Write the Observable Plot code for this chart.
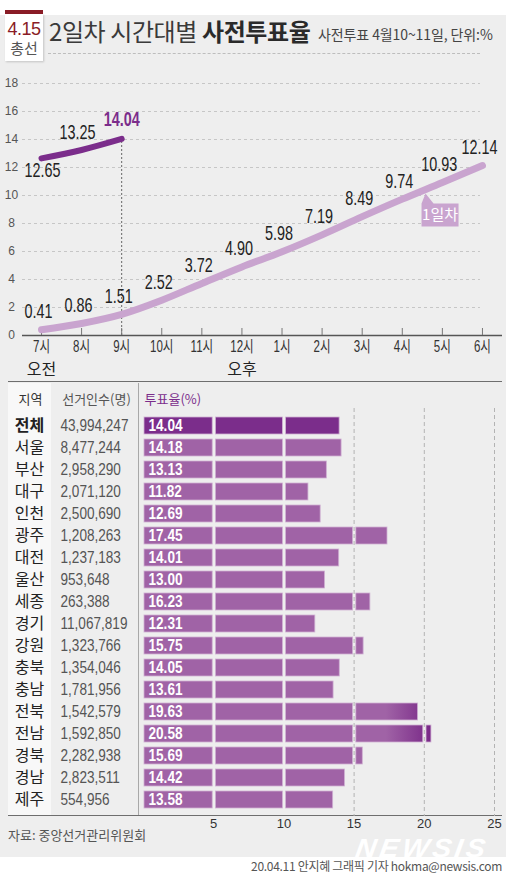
<!DOCTYPE html>
<html><head><meta charset="utf-8">
<script src="https://cdn.jsdelivr.net/npm/d3@7"></script>
<script src="https://cdn.jsdelivr.net/npm/@observablehq/plot@0.6"></script>
<style>
html,body{margin:0;padding:0;background:#fff;}
#wrap{position:relative;width:506px;height:876px;overflow:hidden;font-family:"Noto Sans CJK KR","Noto Sans",sans-serif;}
.abs{position:absolute;}
</style></head><body>
<div id="wrap">
  <div class="abs" style="left:0;top:15px;width:506px;height:842px;background:#eeeeee"></div>
  <!-- badge -->
  <div class="abs" style="left:5px;top:10px;width:38px;height:4px;background:#8a1c26"></div>
  <div class="abs" style="left:5px;top:14px;width:38px;height:47px;background:#fff;box-shadow:1px 1px 2px rgba(0,0,0,0.18)"></div>
  <div class="abs" style="left:5px;top:21px;width:38px;text-align:center;font-family:'Liberation Sans',sans-serif;font-size:18px;line-height:17px;color:#8a1c26;letter-spacing:-0.5px">4.15</div>
  <div class="abs" style="left:5px;top:39px;width:38px;text-align:center;font-size:15px;line-height:17px;color:#555">총선</div>
  <!-- title -->
  <div class="abs" style="left:49px;top:14px;white-space:nowrap;font-size:24px;line-height:33px;color:#3a3a3a;letter-spacing:-0.4px">2일차 시간대별 <b style="color:#2a2a2a">사전투표율</b></div>
  <div class="abs" style="left:318px;top:24px;white-space:nowrap;font-size:14px;line-height:20px;color:#444;letter-spacing:-0.1px">사전투표 4월10~11일, 단위:%</div>
  <div class="abs" style="left:48px;top:53px;width:432px;height:0;border-top:1px dashed #bdbdbd"></div>
  <!-- line chart -->
  <div id="line" class="abs" style="left:0;top:62px"></div>
  <!-- table decorations -->
  <div class="abs" style="left:8px;top:383px;width:43px;height:433px;background:#f8f8f8"></div>
  <div class="abs" style="left:8px;top:381px;width:494px;height:0;border-top:1.5px solid #6e6e6e"></div>
  <div class="abs" style="left:8px;top:815px;width:494px;height:0;border-top:1.5px solid #6e6e6e"></div>
  <div class="abs" style="left:138px;top:383px;width:0;height:432px;border-left:1px solid #a8a8a8"></div>
  <div id="bars" class="abs" style="left:0;top:378px"></div>
  <div class="abs" style="left:8px;top:825px;white-space:nowrap;font-size:13px;line-height:20px;color:#555">자료: 중앙선거관리위원회</div>
  <div class="abs" style="left:356px;top:835px;white-space:nowrap;font-family:'Liberation Sans',sans-serif;font-weight:bold;font-style:italic;font-size:26px;line-height:26px;color:#ffffff;letter-spacing:3px;transform:scaleX(1.1) skewX(-8deg);transform-origin:left center">NEWSIS</div>
  <div class="abs" style="left:0;top:857px;width:506px;height:19px;background:#fff"></div>
  <div class="abs" style="right:4px;top:857px;white-space:nowrap;font-size:12px;line-height:18px;color:#555;letter-spacing:-0.3px">20.04.11 안지혜 그래픽 기자 hokma@newsis.com</div>
</div>
<script>
// ---------- data ----------
const hours = [7, 8, 9, 10, 11, 12, 13, 14, 15, 16, 17, 18];
const hourLabels = ["7시", "8시", "9시", "10시", "11시", "12시", "1시", "2시", "3시", "4시", "5시", "6시"];
const ampm = [{hour: 7, label: "오전"}, {hour: 12, label: "오후"}];
const day1 = [0.41, 0.86, 1.51, 2.52, 3.72, 4.90, 5.98, 7.19, 8.49, 9.74, 10.93, 12.14];
const day2 = [12.65, 13.25, 14.04];
const yTicks = [0, 2, 4, 6, 8, 10, 12, 14, 16, 18];
const day1Tag = [{hour: 16.58, v: 10.14, label: "1일차"}];

const regions = ["전체", "서울", "부산", "대구", "인천", "광주", "대전", "울산", "세종", "경기", "강원", "충북", "충남", "전북", "전남", "경북", "경남", "제주"];
const voters = [43994247, 8477244, 2958290, 2071120, 2500690, 1208263, 1237183, 953648, 263388, 11067819, 1323766, 1354046, 1781956, 1542579, 1592850, 2282938, 2823511, 554956];
const rates = [14.04, 14.18, 13.13, 11.82, 12.69, 17.45, 14.01, 13.00, 16.23, 12.31, 15.75, 14.05, 13.61, 19.63, 20.58, 15.69, 14.42, 13.58];
const xTicks = [5, 10, 15, 20, 25];
const gridX = [15, 20, 25];

// ---------- styles ----------
const NUM = '"Liberation Sans","Noto Sans CJK KR",sans-serif';   // squeezed horizontally below
const PLAIN = 'Arial,"Liberation Sans",sans-serif';
const KR = '"Noto Sans CJK KR","Noto Sans",sans-serif';
const C1 = "#c9a4cf", C2 = "#7b2d8b", CBAR = "#a063a6";

// squeeze text horizontally to mimic the condensed typeface
function squeeze(root, k) {
  root.querySelectorAll("text").forEach(t => {
    const tr = t.getAttribute("transform") || "";
    const x = +t.getAttribute("x") || 0;
    t.setAttribute("transform", `${tr} translate(${x},0) scale(${k},1) translate(${-x},0)`);
  });
}

// ---------- line chart ----------
const d1 = hours.map((h, i) => ({hour: h, v: day1[i]}));
const d2 = day2.map((v, i) => ({hour: hours[i], v}));
const X0 = 6.526, X1 = 18.5;

const calloutSymbol = {
  draw(ctx) {
    ctx.moveTo(0, 0); ctx.lineTo(8, 10); ctx.lineTo(33, 10); ctx.lineTo(33, 33);
    ctx.lineTo(-4, 33); ctx.lineTo(-4, 10); ctx.closePath();
  }
};

const lineOpts = {
  width: 506, height: 318,
  marginTop: 21, marginBottom: 45, marginLeft: 22, marginRight: 4,
  x: {domain: [X0, X1], axis: null},
  y: {domain: [0, 18], axis: null}
};

const lp = Plot.plot({
  ...lineOpts,
  style: {background: "transparent", fontFamily: NUM, overflow: "visible"},
  marks: [
    Plot.ruleY(yTicks.filter(d => d > 0), {y: d => d, x1: () => X0, x2: () => 17.95, stroke: "#c6c6c6", strokeDasharray: "3,3"}),
    Plot.ruleX([d2[2]], {x: "hour", y1: () => 0, y2: "v", stroke: "#666", strokeDasharray: "2,2"}),
    Plot.ruleY([0], {y: d => d, x1: () => X0, x2: () => X1, stroke: "#555", strokeWidth: 1.5}),
    Plot.ruleX(hours, {x: d => d, y1: () => 0, y2: () => 0.5, stroke: "#777"}),
    Plot.line(d1, {x: "hour", y: "v", stroke: C1, strokeWidth: 7, curve: "monotone-x", strokeLinecap: "round"}),
    Plot.line(d2, {x: "hour", y: "v", stroke: C2, strokeWidth: 6, curve: "monotone-x", strokeLinecap: "round"}),
    Plot.text(d1, {x: "hour", y: "v", text: d => d.v.toFixed(2), dx: -3, dy: -18, fontSize: 20, fill: "#222"}),
    Plot.text([d2[0]], {x: "hour", y: "v", text: d => d.v.toFixed(2), dx: 1, dy: 12, fontSize: 20, fill: "#222"}),
    Plot.text([d2[1]], {x: "hour", y: "v", text: d => d.v.toFixed(2), dx: -4, dy: -17, fontSize: 20, fill: "#222"}),
    Plot.text([d2[2]], {x: "hour", y: "v", text: d => d.v.toFixed(2), dx: 0, dy: -19, fontSize: 20, fontWeight: "bold", fill: C2}),
    Plot.text(hours, {x: d => d, y: () => 0, dy: 11, text: (d, i) => hourLabels[i], fontSize: 16, fill: "#333"})
  ]
});
squeeze(lp, 0.72);
// marks that are not condensed
const lp2 = Plot.plot({
  ...lineOpts,
  style: {background: "transparent", fontFamily: KR, overflow: "visible"},
  marks: [
    Plot.text(yTicks, {x: () => X0, y: d => d, dx: -11, text: d => String(d), fontFamily: PLAIN, fontSize: 12, fill: "#555"}),
    Plot.text(ampm, {x: "hour", y: () => 0, dy: 34, text: "label", fontSize: 16, fill: "#222"}),
    Plot.dot(day1Tag, {x: "hour", y: "v", symbol: calloutSymbol, r: 5, fill: C1, stroke: "none"}),
    Plot.text(day1Tag, {x: "hour", y: "v", text: "label", dx: 14.5, dy: 21.5, fontSize: 15, fill: "#fff"})
  ]
});
const lineDiv = document.getElementById("line");
lineDiv.appendChild(lp);
lp2.style.position = "absolute"; lp2.style.left = "0"; lp2.style.top = "0";
lineDiv.appendChild(lp2);

// ---------- bar table ----------
const segs = [];
regions.forEach((r, i) => {
  const v = rates[i];
  for (let a = 0; a < v; a += 5) {
    const hot = (r === "전북" || r === "전남") && a >= 15;
    segs.push({region: r, x1: a, x2: Math.min(a + 5, v), first: a === 0,
      fill: r === "전체" ? C2 : hot ? "url(#hotGrad)" : CBAR});
  }
});
const rows = regions.map((r, i) => ({region: r, voters: voters[i], rate: rates[i]}));
const fmt = d3.format(",");

const barOpts = {
  width: 506, height: 479,
  marginTop: 30, marginBottom: 41, marginLeft: 143, marginRight: 12,
  x: {domain: [0, 25], axis: null},
  y: {domain: regions, range: [30, 438], paddingInner: 0.25, paddingOuter: 0.125, axis: null},
  color: {type: "identity"}
};

const bp = Plot.plot({
  ...barOpts,
  style: {background: "transparent", fontFamily: KR, overflow: "visible"},
  marks: [
    Plot.ruleX(gridX, {x: d => d, stroke: "#b3b3b3", strokeDasharray: "4,3"}),
    Plot.barX(segs.filter(d => d.first), {x1: "x1", x2: "x2", y: "region", fill: "fill", insetLeft: 1, insetRight: 1, stroke: "#cfb0d3", strokeWidth: 0.8}),
    Plot.barX(segs.filter(d => !d.first), {x1: "x1", x2: "x2", y: "region", fill: "fill", insetLeft: 2.2, insetRight: 1, stroke: "#cfb0d3", strokeWidth: 0.8}),
    Plot.text(rows.filter(d => d.region === "전체"), {y: "region", frameAnchor: "left", dx: -114, textAnchor: "middle", text: "region", fontSize: 16, fontWeight: "bold", fill: "#222"}),
    Plot.text(rows.filter(d => d.region !== "전체"), {y: "region", frameAnchor: "left", dx: -114, textAnchor: "middle", text: "region", fontSize: 16, fill: "#222"}),
    Plot.text(["지역"], {frameAnchor: "top-left", dx: -113, dy: -14, textAnchor: "middle", text: d => d, fontSize: 13, fill: "#333"}),
    Plot.text(["선거인수(명)"], {frameAnchor: "top-left", dx: -47, dy: -14, textAnchor: "middle", text: d => d, fontSize: 13, fill: "#555", letterSpacing: -0.5}),
    Plot.text(["투표율(%)"], {frameAnchor: "top-left", dx: 1, dy: -14, textAnchor: "start", text: d => d, fontSize: 13, fill: C2}),
    Plot.text(xTicks, {x: d => d, frameAnchor: "bottom", dy: 11, text: d => String(d), fontFamily: PLAIN, fontSize: 13, fill: "#333"})
  ]
});
const xs = bp.scale("x");
const ns = "http://www.w3.org/2000/svg";
const defs = document.createElementNS(ns, "defs");
defs.innerHTML = `<linearGradient id="hotGrad" gradientUnits="userSpaceOnUse" x1="${xs.apply(17.3)}" y1="0" x2="${xs.apply(20.4)}" y2="0"><stop offset="0" stop-color="${CBAR}"/><stop offset="1" stop-color="#7a2a88"/></linearGradient>`;
bp.insertBefore(defs, bp.firstChild);

// condensed number columns
const bpNum = Plot.plot({
  ...barOpts,
  style: {background: "transparent", fontFamily: NUM, overflow: "visible"},
  marks: [
    Plot.text(rows, {x: () => 0, y: "region", text: d => d.rate.toFixed(2), dx: 5, textAnchor: "start", fontSize: 17, fontWeight: "bold", fill: "#fff"}),
    Plot.text(rows, {y: "region", frameAnchor: "left", dx: -83, textAnchor: "start", text: d => fmt(d.voters), fontSize: 17, fill: "#555"})
  ]
});
squeeze(bpNum, 0.8);
const barsDiv = document.getElementById("bars");
barsDiv.appendChild(bp);
bpNum.style.position = "absolute"; bpNum.style.left = "0"; bpNum.style.top = "0";
barsDiv.appendChild(bpNum);
</script>
</body></html>
